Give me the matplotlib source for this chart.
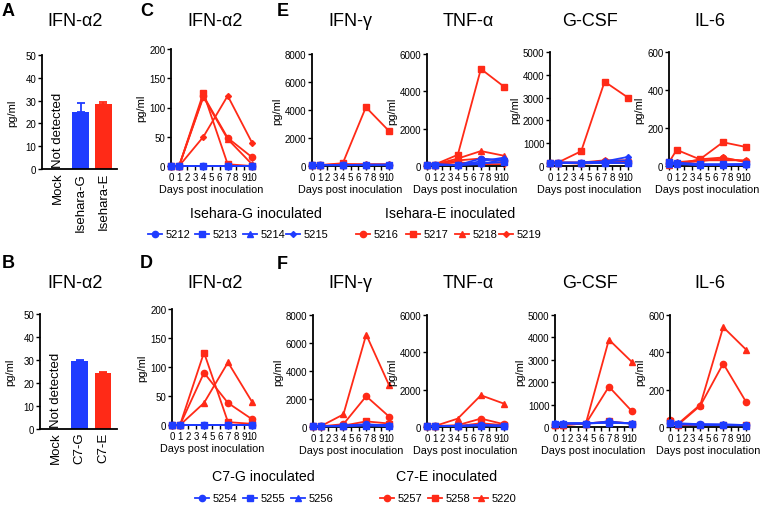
import matplotlib
matplotlib.use("Agg")
import matplotlib.pyplot as plt
from matplotlib.lines import Line2D

plt.rcParams['font.family'] = ['Liberation Sans', 'DejaVu Sans']

BLUE = '#1f3cff'
RED = '#ff2a17'

days = [0, 1, 4, 7, 10]

# ---- Bar panels (A, B) ----
bar_cats_A = ['Mock', 'Isehara-G', 'Isehara-E']
bar_vals_A = [0, 25.0, 28.5]
bar_err_A = [0, 4.0, 0.8]
bar_cats_B = ['Mock', 'C7-G', 'C7-E']
bar_vals_B = [0, 29.5, 24.5]
bar_err_B = [0, 0.7, 0.2]

# ---- Isehara inoculated (top row) ----
ise_G_ids = ['5212', '5213', '5214', '5215']
ise_E_ids = ['5216', '5217', '5218', '5219']
ise_ifna_G = [[0, 0, 0, 0, 0], [0, 0, 0, 0, 0], [0, 0, 0, 0, 0], [0, 0, 0, 0, 0]]
ise_ifna_E = [[0, 0, 120, 48, 15], [0, 0, 125, 3, 0], [0, 0, 118, 46, 3], [0, 0, 50, 120, 40]]
ise_ifng_G = [[60, 60, 60, 80, 80], [60, 60, 60, 60, 60], [60, 60, 60, 100, 100], [60, 60, 60, 80, 90]]
ise_ifng_E = [[60, 60, 150, 100, 100], [60, 60, 200, 4200, 2500], [60, 60, 100, 120, 120], [60, 60, 80, 100, 100]]
ise_tnf_G = [[80, 80, 50, 400, 300], [80, 80, 50, 150, 200], [80, 80, 50, 250, 450], [80, 80, 50, 100, 350]]
ise_tnf_E = [[80, 80, 300, 400, 250], [80, 80, 600, 5200, 4250], [80, 80, 400, 800, 550], [80, 80, 200, 100, 100]]
ise_gcsf_G = [[150, 150, 150, 150, 150], [150, 150, 150, 150, 150], [150, 150, 150, 200, 250], [150, 150, 150, 200, 400]]
ise_gcsf_E = [[150, 150, 150, 200, 200], [150, 150, 650, 3700, 3000], [150, 150, 150, 250, 250], [150, 150, 100, 150, 150]]
ise_il6_G = [[15, 15, 5, 5, 8], [20, 18, 10, 10, 10], [10, 10, 5, 5, 10], [15, 15, 5, 5, 5]]
ise_il6_E = [[10, 15, 25, 40, 25], [20, 85, 35, 125, 100], [5, 20, 30, 30, 30], [10, 10, 35, 45, 20]]

# ---- C7 inoculated (bottom row) ----
c7_G_ids = ['5254', '5255', '5256']
c7_E_ids = ['5257', '5258', '5220']
c7_ifna_G = [[0, 0, 0, 0, 0], [0, 0, 0, 0, 0], [0, 0, 0, 0, 0]]
c7_ifna_E = [[0, 0, 90, 38, 10], [0, 0, 125, 5, 2], [0, 0, 38, 108, 40]]
c7_ifng_G = [[50, 50, 100, 200, 100], [50, 50, 50, 100, 50], [50, 50, 100, 150, 150]]
c7_ifng_E = [[50, 50, 200, 2200, 750], [50, 50, 100, 400, 250], [50, 50, 900, 6600, 3000]]
c7_tnf_G = [[50, 50, 50, 100, 50], [50, 50, 50, 80, 50], [50, 50, 60, 120, 80]]
c7_tnf_E = [[50, 50, 100, 450, 150], [50, 50, 50, 200, 100], [50, 50, 450, 1700, 1250]]
c7_gcsf_G = [[150, 150, 150, 250, 150], [150, 150, 150, 200, 150], [200, 200, 200, 200, 200]]
c7_gcsf_E = [[100, 100, 150, 1800, 700], [100, 100, 150, 250, 150], [100, 100, 150, 3900, 2900]]
c7_il6_G = [[20, 15, 15, 10, 10], [20, 15, 10, 10, 8], [25, 20, 15, 15, 10]]
c7_il6_E = [[40, 10, 115, 340, 135], [30, 10, 10, 10, 10], [20, 15, 120, 535, 415]]

markers4 = ['o', 's', '^', 'D']
msizes = {'o': 4.5, 's': 4.5, '^': 5, 'D': 3}

W, H = 760, 506
fig = plt.figure(figsize=(W / 100, H / 100), dpi=100)


def fx(x):
    return x / W


def fy(y):
    return 1 - y / H


def ax_px(l, t, r, b):
    return fig.add_axes([l / W, 1 - b / H, (r - l) / W, (b - t) / H])


def style(ax):
    for s in ['top', 'right']:
        ax.spines[s].set_visible(False)
    for s in ['left', 'bottom']:
        ax.spines[s].set_linewidth(1.3)
    ax.tick_params(axis='both', labelsize=7, length=3, width=1, pad=1)


def bar_panel(box, cats, vals, errs):
    ax = ax_px(*box)
    style(ax)
    x = list(range(len(cats)))
    cols = ['white', BLUE, RED]
    ax.bar(x[1:], vals[1:], width=0.72, color=cols[1:], zorder=2)
    for xi, v, e, c in zip(x[1:], vals[1:], errs[1:], cols[1:]):
        ax.errorbar([xi], [v], yerr=[[0], [e]], color=c, capsize=3, lw=1.3, capthick=1.3, zorder=1)
    ax.set_xlim(-0.7, 2.6)
    ax.set_ylim(0, 50)
    ax.set_yticks(range(0, 51, 10))
    ax.set_xticks(x)
    ax.set_xticklabels(cats, rotation=90, fontsize=9.5)
    ax.tick_params(axis='x', length=0, pad=2)
    ax.text(0, 1, 'Not detected', rotation=90, ha='center', va='bottom', fontsize=9.5)
    ax.set_ylabel('pg/ml', fontsize=8, labelpad=6)
    return ax


def line_panel(box, G, E, ymax, ystep, mks):
    ax = ax_px(*box)
    style(ax)
    for ys, m in zip(G, mks):
        ax.plot(days, ys, color=BLUE, marker=m, ms=msizes[m], lw=1.3, clip_on=False, zorder=3)
    for ys, m in zip(E, mks):
        ax.plot(days, ys, color=RED, marker=m, ms=msizes[m], lw=1.3, clip_on=False, zorder=2)
    ax.set_xlim(0, 10)
    ax.set_ylim(0, ymax)
    ax.set_xticks(range(0, 11))
    ax.set_yticks(range(0, ymax + 1, ystep))
    ax.tick_params(axis='x', labelsize=7, length=3, pad=1)
    ax.set_xlabel('Days post inoculation', fontsize=7.8, labelpad=2)
    ax.set_ylabel('pg/ml', fontsize=8, labelpad=2)
    return ax


def title_at(x, y, s):
    fig.text(fx(x), fy(y), s, ha='center', va='center', fontsize=13)


def letter(x, y, s):
    fig.text(fx(x), fy(y), s, ha='left', va='center', fontsize=13, fontweight='bold')


# Top row
bar_panel((42, 56, 117, 170), bar_cats_A, bar_vals_A, bar_err_A)
line_panel((171, 50, 252, 167), ise_ifna_G, ise_ifna_E, 200, 50, markers4)
line_panel((312, 55, 389, 167), ise_ifng_G, ise_ifng_E, 8000, 2000, markers4)
line_panel((427, 55, 504, 167), ise_tnf_G, ise_tnf_E, 6000, 2000, markers4)
line_panel((550, 53, 628, 167), ise_gcsf_G, ise_gcsf_E, 5000, 1000, markers4)
line_panel((669, 53, 746, 167), ise_il6_G, ise_il6_E, 600, 200, markers4)

# Bottom row
bar_panel((40, 315, 117, 430), bar_cats_B, bar_vals_B, bar_err_B)
line_panel((172, 310, 252, 426), c7_ifna_G, c7_ifna_E, 200, 50, markers4[:3])
line_panel((313, 316, 389, 428), c7_ifng_G, c7_ifng_E, 8000, 2000, markers4[:3])
line_panel((427, 316, 504, 428), c7_tnf_G, c7_tnf_E, 6000, 2000, markers4[:3])
line_panel((555, 316, 632, 428), c7_gcsf_G, c7_gcsf_E, 5000, 1000, markers4[:3])
line_panel((670, 316, 746, 428), c7_il6_G, c7_il6_E, 600, 200, markers4[:3])

# Titles
for (x, y, s) in [(75, 22, 'IFN-α2'), (215, 22, 'IFN-α2'), (350, 22, 'IFN-γ'), (468, 22, 'TNF-α'),
                  (590, 22, 'G-CSF'), (710, 22, 'IL-6'),
                  (75, 283, 'IFN-α2'), (215, 283, 'IFN-α2'), (350, 283, 'IFN-γ'), (468, 283, 'TNF-α'),
                  (590, 283, 'G-CSF'), (710, 283, 'IL-6')]:
    title_at(x, y, s)
for (x, y, s) in [(2, 12, 'A'), (140, 12, 'C'), (277, 12, 'E'),
                  (2, 263, 'B'), (140, 263, 'D'), (277, 265, 'F')]:
    letter(x, y, s)

# Group labels
for (x, y, s) in [(256, 214, 'Isehara-G inoculated'), (450, 214, 'Isehara-E inoculated'),
                  (263, 477, 'C7-G inoculated'), (447, 477, 'C7-E inoculated')]:
    fig.text(fx(x), fy(y), s, ha='center', va='center', fontsize=10.2)


def legend_row(ids, color, mks, xs, y):
    # manual legend keys: short line + marker, followed by the label
    for lab, m, x in zip(ids, mks, xs):
        fig.add_artist(Line2D([fx(x - 7), fx(x + 7)], [fy(y), fy(y)], transform=fig.transFigure,
                              color=color, lw=1.3))
        fig.add_artist(Line2D([fx(x)], [fy(y)], transform=fig.transFigure, color=color,
                              marker=m, ms=msizes[m], lw=0))
        fig.text(fx(x + 11), fy(y), lab, ha='left', va='center', fontsize=8)


legend_row(ise_G_ids, BLUE, markers4, [155, 202, 250, 293], 235)
legend_row(ise_E_ids, RED, markers4, [363, 413, 462, 506], 235)
legend_row(c7_G_ids, BLUE, markers4[:3], [202, 250, 298], 499)
legend_row(c7_E_ids, RED, markers4[:3], [387, 435, 481], 499)

fig.savefig('out.png', dpi=100)
